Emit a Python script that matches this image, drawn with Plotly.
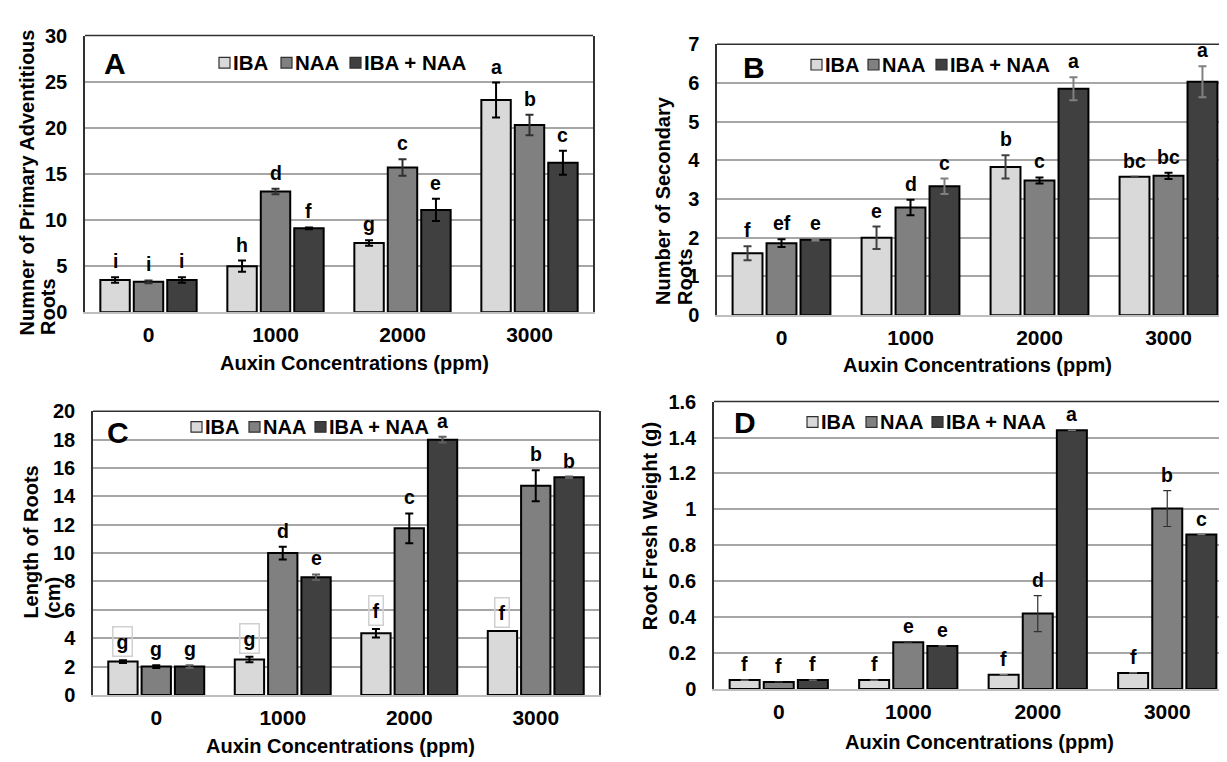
import plotly.graph_objects as go

# ---------------- data ----------------
groups = ["0", "1000", "2000", "3000"]
series_names = ["IBA", "NAA", "IBA + NAA"]

# Panel A: Number of primary adventitious roots
A_IBA = [3.5, 5.0, 7.5, 23.0]
A_IBA_err = [0.3, 0.6, 0.3, 1.9]
A_NAA = [3.3, 13.1, 15.7, 20.3]
A_NAA_err = [0.15, 0.3, 0.9, 1.1]
A_MIX = [3.5, 9.1, 11.1, 16.2]
A_MIX_err = [0.3, 0.1, 1.2, 1.3]
A_lbl_IBA = ["i", "h", "g", "a"]
A_lbl_NAA = ["i", "d", "c", "b"]
A_lbl_MIX = ["i", "f", "e", "c"]

# Panel B: Number of secondary roots
B_IBA = [1.6, 2.0, 3.83, 3.58]
B_IBA_err = [0.18, 0.29, 0.3, 0.0]
B_NAA = [1.86, 2.78, 3.48, 3.6]
B_NAA_err = [0.1, 0.2, 0.08, 0.08]
B_MIX = [1.95, 3.33, 5.85, 6.03]
B_MIX_err = [0.02, 0.2, 0.3, 0.4]
B_lbl_IBA = ["f", "e", "b", "bc"]
B_lbl_NAA = ["ef", "d", "c", "bc"]
B_lbl_MIX = ["e", "c", "a", "a"]

# Panel C: Length of roots (cm)
C_IBA = [2.35, 2.5, 4.35, 4.5]
C_IBA_err = [0.1, 0.2, 0.3, 0.0]
C_NAA = [2.0, 10.0, 11.75, 14.75]
C_NAA_err = [0.1, 0.45, 1.05, 1.1]
C_MIX = [2.0, 8.3, 18.0, 15.35]
C_MIX_err = [0.1, 0.2, 0.2, 0.05]
C_lbl_IBA = ["g", "g", "f", "f"]
C_lbl_NAA = ["g", "d", "c", "b"]
C_lbl_MIX = ["g", "e", "a", "b"]

# Panel D: Root fresh weight (g)
D_IBA = [0.05, 0.05, 0.08, 0.09]
D_IBA_err = [0.0, 0.0, 0.0, 0.0]
D_NAA = [0.04, 0.26, 0.42, 1.005]
D_NAA_err = [0.0, 0.0, 0.1, 0.1]
D_MIX = [0.05, 0.24, 1.44, 0.86]
D_MIX_err = [0.0, 0.0, 0.0, 0.0]
D_lbl_IBA = ["f", "f", "f", "f"]
D_lbl_NAA = ["f", "e", "d", "b"]
D_lbl_MIX = ["f", "e", "a", "c"]

y_titles = {
    "A": ["Numner of Primary Adventitious", "Roots"],
    "B": ["Number of Secondary", "Roots"],
    "C": ["Length of Roots", "(cm)"],
    "D": ["Root Fresh Weight (g)"],
}
x_title = "Auxin Concentrations (ppm)"

# ---------------- styling / layout ----------------
W, H = 1227, 762
FONT = "Liberation Sans, Arial, sans-serif"
colors = ["#d9d9d9", "#808080", "#404040"]


def fx(p):
    return p / W


def fy(p):
    return 1 - p / H


panels = [
    dict(key="A", box=(77, 585, 17, 302), ymax=30, dtick=5,
         vals=[A_IBA, A_NAA, A_MIX], errs=[A_IBA_err, A_NAA_err, A_MIX_err],
         lbls=[A_lbl_IBA, A_lbl_NAA, A_lbl_MIX],
         errcol=["#000000", "#303030", "#000000"], errw=2,
         letter=(107, 46), legend=(211, 45), leg_off=[0, 62, 131], leg_fs=20.5,
         ytitle_x=[19, 40], ytitle_bottom=328, xtitle=(346, 354), boxed=None),
    dict(key="B", box=(709, 1225, 26, 305), ymax=7, dtick=1,
         vals=[B_IBA, B_NAA, B_MIX], errs=[B_IBA_err, B_NAA_err, B_MIX_err],
         lbls=[B_lbl_IBA, B_lbl_NAA, B_lbl_MIX],
         errcol=["#404040", "#000000", "#808080"], errw=2,
         letter=(746, 50), legend=(803, 47), leg_off=[0, 57, 125], leg_fs=20,
         ytitle_x=[655, 677], ytitle_bottom=297, xtitle=(969, 356), boxed=None),
    dict(key="C", box=(85, 591, 404, 696), ymax=20, dtick=2,
         vals=[C_IBA, C_NAA, C_MIX], errs=[C_IBA_err, C_NAA_err, C_MIX_err],
         lbls=[C_lbl_IBA, C_lbl_NAA, C_lbl_MIX],
         errcol=["#000000", "#000000", "#606060"], errw=2,
         letter=(110, 426), legend=(183, 420), leg_off=[0, 58, 124], leg_fs=20,
         ytitle_x=[23, 45], ytitle_bottom=620, xtitle=(332, 749), boxed=0),
    dict(key="D", box=(706, 1224, 394, 690), ymax=1.6, dtick=0.2,
         vals=[D_IBA, D_NAA, D_MIX], errs=[D_IBA_err, D_NAA_err, D_MIX_err],
         lbls=[D_lbl_IBA, D_lbl_NAA, D_lbl_MIX],
         errcol=["#808080", "#303030", "#808080"], errw=1.2,
         letter=(737, 416), legend=(799, 415), leg_off=[0, 59, 125], leg_fs=20,
         ytitle_x=[642], ytitle_bottom=632, xtitle=(971, 744), boxed=None),
]

BARGAP = 0.21
SLOT = (1 - BARGAP) / 3

fig = go.Figure()
annotations = []
shapes = []
layout_axes = {}

for idx, p in enumerate(panels):
    n = "" if idx == 0 else str(idx + 1)
    xa, ya = "x" + n, "y" + n
    x0, x1, y0, y1 = p["box"]
    for s in range(3):
        fig.add_trace(go.Bar(
            x=groups, y=p["vals"][s], name=series_names[s],
            marker=dict(color=colors[s], line=dict(color="#000000", width=2)),
            error_y=dict(type="data", array=p["errs"][s], visible=True,
                         color=p["errcol"][s], thickness=p["errw"], width=4),
            xaxis=xa, yaxis=ya, showlegend=False,
            legendgroup=series_names[s],
        ))
        for i in range(len(groups)):
            a = dict(
                x=i + (s - 1) * SLOT, y=p["vals"][s][i] + p["errs"][s][i],
                xref=xa, yref=ya, text=p["lbls"][s][i], showarrow=False,
                yanchor="bottom", yshift=3,
                font=dict(family=FONT, size=19.5, color="#000000", weight="bold"),
            )
            if p["boxed"] is not None and s == p["boxed"]:
                a.update(bordercolor="#d0d0d0", borderwidth=1.5, borderpad=3)
            annotations.append(a)

    xtickfont = dict(family=FONT, size=21, color="#000000", weight="bold")
    ytickfont = dict(family=FONT, size=20, color="#000000", weight="bold")
    layout_axes["xaxis" + n] = dict(
        domain=[fx(x0), fx(x1)], anchor=ya, type="category",
        range=[-0.5, 3.5], showgrid=False, showline=True,
        linecolor="#bfbfbf", linewidth=2, ticks="outside", ticklen=3,
        tickcolor="rgba(0,0,0,0)", tickfont=xtickfont, zeroline=False,
    )
    layout_axes["yaxis" + n] = dict(
        domain=[fy(y1), fy(y0)], anchor=xa, range=[0, p["ymax"]],
        dtick=p["dtick"], tick0=0, showgrid=True, gridcolor="#a6a6a6",
        gridwidth=1.5, showline=True, mirror=True, linecolor="#303030",
        linewidth=1.5, ticks="outside", ticklen=12,
        tickcolor="rgba(0,0,0,0)", tickfont=ytickfont, zeroline=False,
    )
    # top frame line
    shapes.append(dict(type="line", xref=xa + " domain", yref=ya + " domain",
                       x0=0, x1=1, y0=1, y1=1,
                       line=dict(color="#303030", width=1.5)))

    # panel letter
    annotations.append(dict(
        x=fx(p["letter"][0]), y=fy(p["letter"][1]), xref="paper", yref="paper",
        text=p["key"], showarrow=False, xanchor="center", yanchor="middle",
        font=dict(family=FONT, size=30, color="#000000", weight="bold")))

    # custom legend
    lx, ly = p["legend"]
    for s in range(3):
        sx = lx + p["leg_off"][s]
        shapes.append(dict(type="rect", xref="paper", yref="paper",
                           x0=fx(sx), x1=fx(sx + 11), y0=fy(ly + 5.5), y1=fy(ly - 5.5),
                           fillcolor=colors[s], line=dict(color="#303030", width=1.2)))
        annotations.append(dict(
            x=fx(sx + 12), y=fy(ly), xref="paper", yref="paper",
            text=series_names[s], showarrow=False, xanchor="left", yanchor="middle",
            font=dict(family=FONT, size=p["leg_fs"], color="#000000", weight="bold")))

    # y title lines
    for li, line in enumerate(y_titles[p["key"]]):
        annotations.append(dict(
            x=fx(p["ytitle_x"][li]), y=fy(p["ytitle_bottom"]),
            xref="paper", yref="paper", text=line, textangle=-90,
            showarrow=False, xanchor="center", yanchor="bottom",
            font=dict(family=FONT, size=20, color="#000000", weight="bold")))

    # x title
    annotations.append(dict(
        x=fx(p["xtitle"][0]), y=fy(p["xtitle"][1]), xref="paper", yref="paper",
        text=x_title, showarrow=False, xanchor="center", yanchor="middle",
        font=dict(family=FONT, size=20, color="#000000", weight="bold")))

fig.update_layout(
    width=W, height=H, margin=dict(l=0, r=0, t=0, b=0),
    paper_bgcolor="white", plot_bgcolor="white",
    barmode="group", bargap=BARGAP, bargroupgap=0.12,
    showlegend=False, annotations=annotations, shapes=shapes,
    font=dict(family=FONT, color="#000000"),
    **layout_axes,
)

fig.write_html("out.html")
